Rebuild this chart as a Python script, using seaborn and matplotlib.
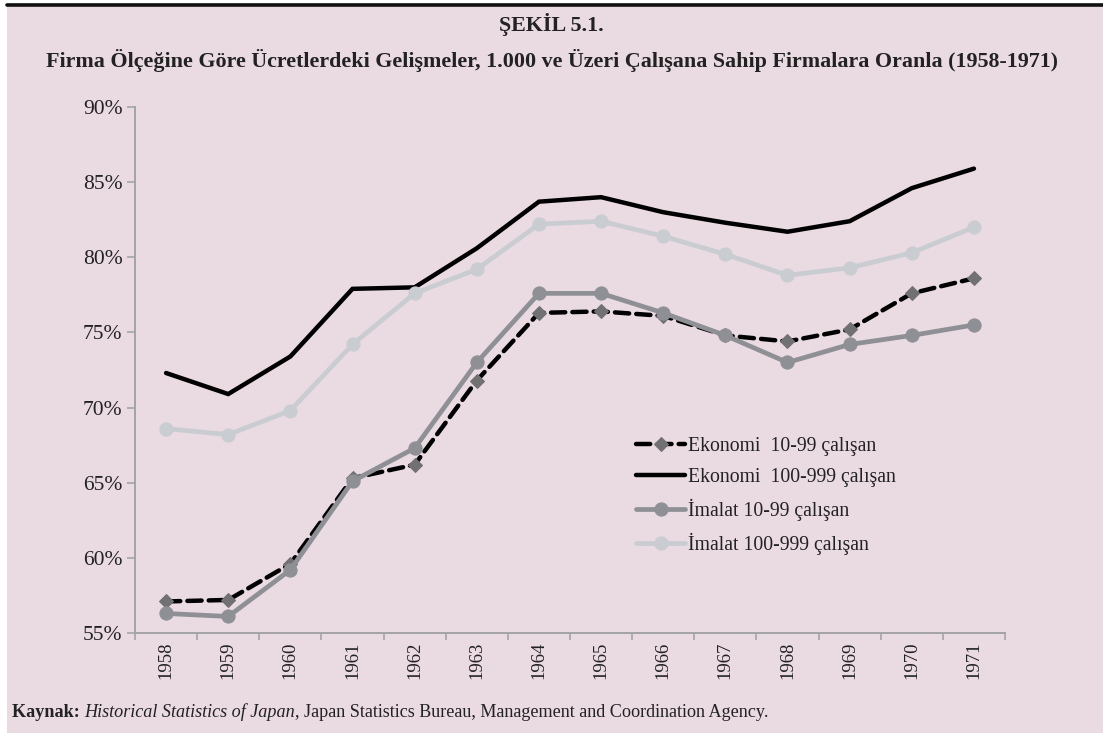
import matplotlib
matplotlib.use("Agg")
import matplotlib.pyplot as plt
import seaborn as sns
import numpy as np
from matplotlib.ticker import FixedLocator, FuncFormatter, NullFormatter
from matplotlib.patches import Rectangle
from matplotlib.lines import Line2D

# ---------------- data ----------------
years = ['1958', '1959', '1960', '1961', '1962', '1963', '1964',
         '1965', '1966', '1967', '1968', '1969', '1970', '1971']
eko_10_99 = [57.1, 57.2, 59.6, 65.3, 66.2, 71.8, 76.3, 76.4, 76.1, 74.8, 74.4, 75.2, 77.6, 78.6]
eko_100_999 = [72.3, 70.9, 73.4, 77.9, 78.0, 80.6, 83.7, 84.0, 83.0, 82.3, 81.7, 82.4, 84.6, 85.9]
ima_10_99 = [56.3, 56.1, 59.2, 65.1, 67.3, 73.0, 77.6, 77.6, 76.3, 74.8, 73.0, 74.2, 74.8, 75.5]
ima_100_999 = [68.6, 68.2, 69.8, 74.2, 77.6, 79.2, 82.2, 82.4, 81.4, 80.2, 78.8, 79.3, 80.3, 82.0]
series_labels = ['Ekonomi  10-99 çalışan', 'Ekonomi  100-999 çalışan',
                 'İmalat 10-99 çalışan', 'İmalat 100-999 çalışan']
y_ticks = [55, 60, 65, 70, 75, 80, 85, 90]
title1 = 'ŞEKİL 5.1.'
title2 = 'Firma Ölçeğine Göre Ücretlerdeki Gelişmeler, 1.000 ve Üzeri Çalışana Sahip Firmalara Oranla (1958-1971)'

# ---------------- style ----------------
BG = '#EADAE1'
sns.set_style('white')
plt.rcParams['font.family'] = ['Liberation Serif', 'DejaVu Serif']
plt.rcParams['axes.facecolor'] = BG

W, H = 1103, 733
fig = plt.figure(figsize=(W / 100, H / 100), dpi=100)
fig.patch.set_facecolor('white')
fig.patches.append(Rectangle((7 / W, 0), 1 - 7 / W, 1 - 3 / H, transform=fig.transFigure,
                             facecolor=BG, edgecolor='none', zorder=-10))
fig.lines.append(Line2D([7 / W, 1], [1 - 4.5 / H, 1 - 4.5 / H], transform=fig.transFigure,
                        color='#111111', linewidth=2.6))

ax = fig.add_axes([135 / W, 1 - 633 / H, (1005 - 135) / W, (633 - 107) / H])
ax.set_facecolor(BG)

styles = [
    dict(color='black', linewidth=3.2, marker='D', markersize=7, markerfacecolor='#717174',
         markeredgecolor='#717174', linestyle='--'),
    dict(color='black', linewidth=3.2, marker=None),
    dict(color='#8E9095', linewidth=3.4, marker='o', markersize=9.5, markerfacecolor='#8E9095',
         markeredgecolor='#8E9095'),
    dict(color='#C9CDD2', linewidth=3.4, marker='o', markersize=9.5, markerfacecolor='#C9CDD2',
         markeredgecolor='#C9CDD2'),
]
for vals, lab, st in zip([eko_10_99, eko_100_999, ima_10_99, ima_100_999], series_labels, styles):
    sns.lineplot(x=years, y=vals, ax=ax, label=lab, sort=False, **st)
    ln = ax.lines[-1]
    ln.set_solid_joinstyle('miter')
    if st.get('linestyle') == '--':
        ln.set_dashes([3.2, 1.6])
        ln.set_dash_capstyle('round')

ax.set_xlim(-0.5, len(years) - 0.5)
ax.set_ylim(55, 90)
ax.set_xlabel('')
ax.set_ylabel('')

ax.yaxis.set_major_locator(FixedLocator(y_ticks))
ax.yaxis.set_major_formatter(FuncFormatter(lambda v, p: f'{v:.0f}%'))
ax.xaxis.set_major_locator(FixedLocator(np.arange(len(years))))
ax.set_xticklabels(years, rotation=90)
ax.xaxis.set_minor_locator(FixedLocator(np.arange(len(years) + 1) - 0.5))
ax.xaxis.set_minor_formatter(NullFormatter())

AXC = '#A3A4A8'
for s in ['top', 'right']:
    ax.spines[s].set_visible(False)
for s in ['left', 'bottom']:
    ax.spines[s].set_color(AXC)
    ax.spines[s].set_linewidth(1.4)
ax.tick_params(axis='y', which='major', direction='out', length=6, width=1.2, color=AXC,
               labelsize=15.5, labelcolor='#222222', pad=3, left=True)
ax.tick_params(axis='x', which='major', length=0, labelsize=13.5, labelcolor='#222222', pad=6,
               bottom=True)
ax.tick_params(axis='x', which='minor', direction='out', length=5, width=1.2, color=AXC, bottom=True)
ax.grid(False)

leg = ax.legend(loc='upper left', bbox_to_anchor=(636 / W, 1 - 437 / H), bbox_transform=fig.transFigure,
                frameon=False, fontsize=14.2, handlelength=2.5, handletextpad=0.12,
                labelspacing=0.6, borderpad=0, borderaxespad=0)
for t in leg.get_texts():
    t.set_color('#222222')

fig.text(0.5, 1 - 25 / H, title1, ha='center', va='center', fontsize=15.8, fontweight='bold',
         color='#222222')
fig.text(0.5, 1 - 60 / H, title2, ha='center', va='center', fontsize=15.8, fontweight='bold',
         color='#222222')

# footer with mixed styles
fig.canvas.draw()
renderer = fig.canvas.get_renderer()
x = 12
yb = 1 - 717 / H
for txt, kw in [('Kaynak: ', dict(fontweight='bold')),
                ('Historical Statistics of Japan', dict(fontstyle='italic')),
                (', Japan Statistics Bureau, Management and Coordination Agency.', dict())]:
    t = fig.text(x / W, yb, txt, ha='left', va='baseline', fontsize=13.1, color='#222222', **kw)
    bb = t.get_window_extent(renderer=renderer)
    x += bb.width

fig.savefig('out.png', dpi=100, facecolor=fig.get_facecolor())
